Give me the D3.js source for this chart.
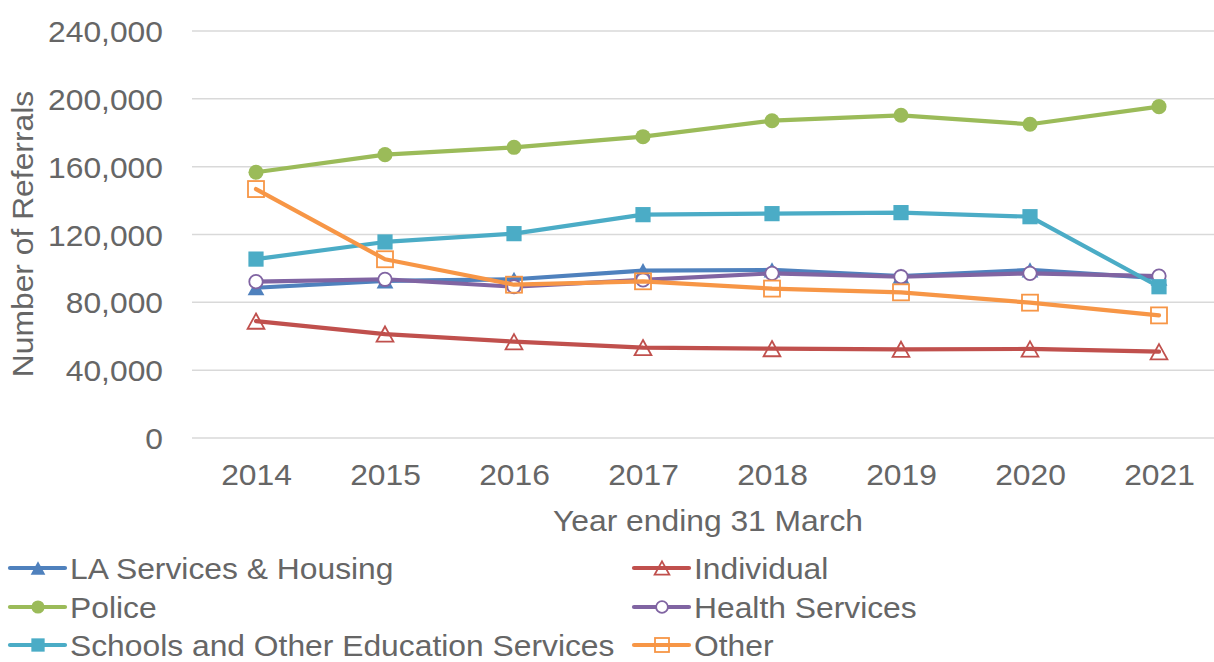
<!DOCTYPE html>
<html>
<head>
<meta charset="utf-8">
<script src="https://cdn.jsdelivr.net/npm/d3@7"></script>
<style>
  html, body { margin: 0; padding: 0; background: #fff; }
  svg { display: block; font-family: "Liberation Sans", Arial, sans-serif; }
</style>
</head>
<body>
<svg id="chart" width="1214" height="662"></svg>
<script>
// Referrals by source, years ending 31 March
const years = ["2014", "2015", "2016", "2017", "2018", "2019", "2020", "2021"];
const laServices = [88600, 92600, 93600, 98700, 99100, 95500, 99100, 94200];
const individual = [68900, 61300, 56800, 53300, 52700, 52300, 52500, 50900];
const police     = [156700, 167100, 171400, 177700, 187100, 190300, 185000, 195400];
const health     = [92200, 93600, 89200, 93200, 97100, 95100, 97100, 95500];
const schools    = [105500, 115600, 120500, 131700, 132300, 132900, 130500, 89200];
const other      = [146800, 105400, 90400, 92400, 88100, 85900, 79800, 72300];
const yTicks = [0, 40000, 80000, 120000, 160000, 200000, 240000];

const series = [
  { name: "LA Services & Housing", values: laServices, color: "#4F81BD", marker: "triangle", filled: true },
  { name: "Individual", values: individual, color: "#C0504D", marker: "triangle", filled: false },
  { name: "Police", values: police, color: "#9BBB59", marker: "circle", filled: true },
  { name: "Health Services", values: health, color: "#8064A2", marker: "circle", filled: false },
  { name: "Schools and Other Education Services", values: schools, color: "#4BACC6", marker: "square", filled: true },
  { name: "Other", values: other, color: "#F79646", marker: "square", filled: false }
];

const svg = d3.select("#chart");
const textColor = "#666666";
const fontSize = 30;
const widen = 1.06; // slightly wider glyphs than Liberation Sans default

const x = d3.scalePoint().domain(years).range([256, 1159]);
const y = d3.scaleLinear().domain([0, 240000]).range([438, 31]);
const gridLeft = 192, gridRight = 1214;

// gridlines
svg.append("g").selectAll("line").data(yTicks).join("line")
  .attr("x1", gridLeft).attr("x2", gridRight)
  .attr("y1", d => y(d)).attr("y2", d => y(d))
  .attr("stroke", "#d9d9d9").attr("stroke-width", 1.5);

// y axis labels
const yAxis = d3.axisLeft(y).tickValues(yTicks).tickSize(0).tickPadding(0)
  .tickFormat(d3.format(","));
const gy = svg.append("g").attr("transform", "translate(163,0)").call(yAxis);
gy.select(".domain").remove();
gy.selectAll("text").attr("font-size", fontSize).attr("fill", textColor)
  .attr("font-family", "Liberation Sans, Arial, sans-serif").attr("dy", "0.35em");

// x axis labels
const xAxis = d3.axisBottom(x).tickSize(0).tickPadding(0);
const gx = svg.append("g").attr("transform", "translate(0,464)").call(xAxis);
gx.select(".domain").remove();
gx.selectAll("text").attr("font-size", fontSize).attr("fill", textColor)
  .attr("font-family", "Liberation Sans, Arial, sans-serif").attr("dy", "0.71em");

// axis titles
svg.append("text").attr("x", 708).attr("y", 531).attr("text-anchor", "middle")
  .attr("font-size", fontSize).attr("fill", textColor).text("Year ending 31 March");
svg.append("text").attr("transform", "translate(33,234) rotate(-90)").attr("text-anchor", "middle")
  .attr("font-size", fontSize).attr("fill", textColor).text("Number of Referrals");

function drawMarker(g, type, cx, cy, color, filled, size) {
  const fill = filled ? color : "#fff";
  if (type === "circle") {
    g.append("circle").attr("cx", cx).attr("cy", cy).attr("r", filled ? size * 0.47 : size * 0.42)
      .attr("fill", fill).attr("stroke", color).attr("stroke-width", filled ? 0 : 1.8);
  } else if (type === "square") {
    const s = filled ? size * 0.95 : size;
    g.append("rect").attr("x", cx - s / 2).attr("y", cy - s / 2).attr("width", s).attr("height", s)
      .attr("fill", filled ? fill : "none").attr("stroke", color).attr("stroke-width", filled ? 0 : 1.8);
  } else {
    const w = size * 1.05, h = size * 0.95;
    const pts = [[cx, cy - h / 2], [cx + w / 2, cy + h / 2], [cx - w / 2, cy + h / 2]];
    g.append("path").attr("d", "M" + pts.map(p => p.join(",")).join("L") + "Z")
      .attr("fill", filled ? fill : "none").attr("stroke", color).attr("stroke-width", filled ? 0 : 1.8);
  }
}

const line = d3.line().x((d, i) => x(years[i])).y(d => y(d));
const plot = svg.append("g");
series.forEach(s => {
  const g = plot.append("g");
  g.append("path").datum(s.values).attr("d", line)
    .attr("fill", "none").attr("stroke", s.color).attr("stroke-width", 4.2)
    .attr("stroke-linejoin", "round").attr("stroke-linecap", "round");
  s.values.forEach((v, i) => drawMarker(g, s.marker, x(years[i]), y(v), s.color, s.filled, 16));
});

// legend
const legendCols = [10, 634];
const legendRows = [568, 607, 645];
series.forEach((s, i) => {
  const lx = legendCols[i % 2], ly = legendRows[Math.floor(i / 2)];
  const g = svg.append("g");
  g.append("line").attr("x1", lx).attr("x2", lx + 55).attr("y1", ly).attr("y2", ly)
    .attr("stroke", s.color).attr("stroke-width", 4.2).attr("stroke-linecap", "round");
  drawMarker(g, s.marker, lx + 28, ly, s.color, s.filled, 14);
  g.append("text").attr("x", lx + 60).attr("y", ly).attr("dy", "0.35em")
    .attr("font-size", fontSize).attr("fill", textColor).text(s.name);
});

// widen every label a little, keeping its anchor point
svg.selectAll("text").each(function () {
  const len = this.getComputedTextLength();
  d3.select(this).attr("textLength", len * widen).attr("lengthAdjust", "spacingAndGlyphs");
});
</script>
</body>
</html>
